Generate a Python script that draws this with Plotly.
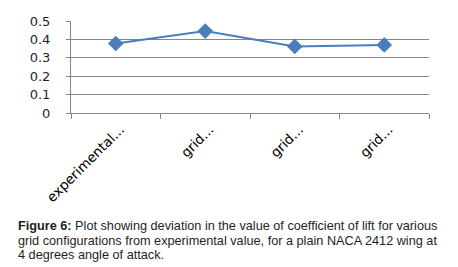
import plotly.graph_objects as go

categories = ["experimental...", "grid...", "grid...", "grid..."]
cl_values = [0.378, 0.445, 0.362, 0.370]
y_ticks = [0, 0.1, 0.2, 0.3, 0.4, 0.5]
caption_lines = [
    "<b>Figure 6:</b> Plot showing deviation in the value of coefficient of lift for various",
    "grid configurations from experimental value, for a plain NACA 2412 wing at",
    "4 degrees angle of attack.",
]

W, H = 458, 267
L, R, T, B = 71, 29, 21, 154
plot_h = H - T - B
plot_w = W - L - R

x_pos = list(range(len(categories)))
boundaries = [i - 0.5 for i in range(len(categories) + 1)]

fig = go.Figure()
fig.add_trace(go.Scatter(
    x=x_pos, y=cl_values, mode="lines+markers",
    line=dict(color="#4a7ebb", width=2),
    marker=dict(symbol="diamond", size=12, color="#4a7ebb"),
    xaxis="x", yaxis="y", showlegend=False, hoverinfo="y",
))
# invisible trace so the label axis renders
fig.add_trace(go.Scatter(x=x_pos, y=cl_values, mode="markers", marker=dict(opacity=0),
                         xaxis="x2", yaxis="y", showlegend=False, hoverinfo="skip"))

grid_c = "#868686"
lab_shift = 0.05
fig.update_layout(
    width=W, height=H,
    margin=dict(l=L, r=R, t=T, b=B, pad=0),
    paper_bgcolor="white", plot_bgcolor="white",
    xaxis=dict(
        range=[-0.5, len(categories) - 0.5], tickmode="array", tickvals=boundaries,
        showticklabels=False, ticks="outside", ticklen=5, tickcolor=grid_c, tickwidth=1,
        showline=True, linecolor=grid_c, linewidth=1, showgrid=False, zeroline=False,
    ),
    xaxis2=dict(
        overlaying="x", anchor="y", side="bottom",
        range=[-0.5 - lab_shift, len(categories) - 0.5 - lab_shift],
        tickmode="array", tickvals=x_pos, ticktext=categories, tickangle=-45,
        ticks="", showline=False, showgrid=False, zeroline=False,
        ticklabelstandoff=5,
        tickfont=dict(family="DejaVu Sans", size=13.5, color="#000000"),
    ),
    yaxis=dict(
        range=[0, 0.5], tickmode="array", tickvals=y_ticks,
        ticktext=[("%g" % v) for v in y_ticks],
        ticks="outside", ticklen=4, tickcolor=grid_c,
        showline=True, linecolor=grid_c, linewidth=1,
        showgrid=True, gridcolor=grid_c, gridwidth=1, zeroline=False,
        tickfont=dict(family="DejaVu Sans", size=13, color="#1f1f2a"),
        ticklabelstandoff=13,
    ),
)

centers = [226, 240.5, 254.5]
for line, cy in zip(caption_lines, centers):
    fig.add_annotation(
        text=line, xref="paper", yref="paper",
        x=(16 - L) / plot_w, y=(H - B - cy) / plot_h,
        xanchor="left", yanchor="middle", showarrow=False, align="left",
        font=dict(family="Liberation Sans", size=12.7, color="#231f20"),
    )

fig.write_html("out.html", config={"displayModeBar": False},
               post_script="document.body.style.margin='0';")
